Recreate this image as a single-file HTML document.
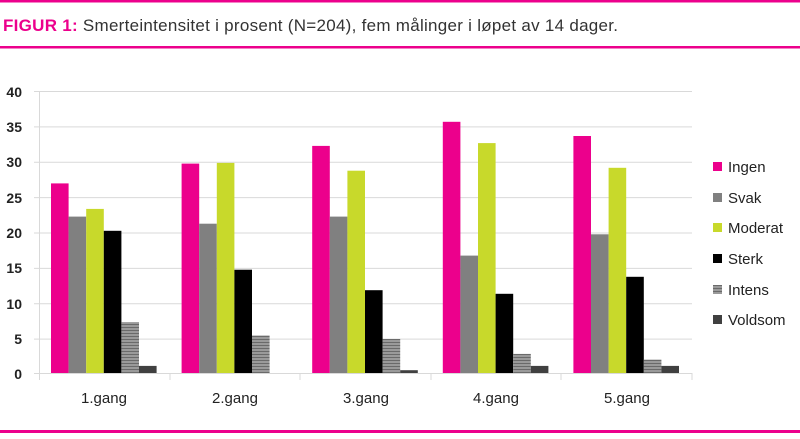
<!DOCTYPE html>
<html><head><meta charset="utf-8"><style>
body{margin:0;width:800px;height:434px;background:#fff;overflow:hidden;font-family:"Liberation Sans",sans-serif}
</style></head><body>
<svg width="800" height="434" xmlns="http://www.w3.org/2000/svg" font-family="Liberation Sans, sans-serif">
<defs><pattern id="st" width="4" height="3" patternUnits="userSpaceOnUse"><rect width="4" height="3" fill="#9a9a9a"/><rect width="4" height="1" fill="#6a6a6a"/></pattern></defs>
<rect x="0" y="0" width="800" height="2.5" fill="#ec008c"/>
<rect x="0" y="46" width="800" height="2.5" fill="#ec008c"/>
<rect x="0" y="430" width="800" height="3" fill="#ec008c"/>
<text x="3" y="31" font-size="17" fill="#333" textLength="615" lengthAdjust="spacing"><tspan fill="#ec008c" font-weight="bold">FIGUR 1:</tspan> Smerteintensitet i prosent (N=204), fem målinger i løpet av 14 dager.</text>
<g stroke="#d9d9d9" stroke-width="1">
<line x1="34" y1="91.5" x2="692" y2="91.5"/><line x1="34" y1="126.9" x2="692" y2="126.9"/><line x1="34" y1="162.2" x2="692" y2="162.2"/><line x1="34" y1="197.6" x2="692" y2="197.6"/><line x1="34" y1="233" x2="692" y2="233"/><line x1="34" y1="268.4" x2="692" y2="268.4"/><line x1="34" y1="303.7" x2="692" y2="303.7"/><line x1="34" y1="339.1" x2="692" y2="339.1"/>
<line x1="39.5" y1="91" x2="39.5" y2="380"/><line x1="34" y1="373.5" x2="692" y2="373.5"/>
<line x1="170" y1="373" x2="170" y2="380"/><line x1="300" y1="373" x2="300" y2="380"/><line x1="431" y1="373" x2="431" y2="380"/><line x1="561" y1="373" x2="561" y2="380"/><line x1="692" y1="373" x2="692" y2="380"/>
</g>
<g font-size="14" font-weight="bold" fill="#222" text-anchor="end">
<text x="22" y="97">40</text><text x="22" y="132">35</text><text x="22" y="167">30</text><text x="22" y="203">25</text><text x="22" y="238">20</text><text x="22" y="273">15</text><text x="22" y="309">10</text><text x="22" y="344">5</text><text x="22" y="379">0</text>
</g>
<g>
<rect x="51" y="183.4" width="17.6" height="189.6" fill="#ec008c"/>
<rect x="68.6" y="216.6" width="17.6" height="156.4" fill="#808080"/>
<rect x="86.2" y="208.9" width="17.6" height="164.1" fill="#c8d92b"/>
<rect x="103.8" y="230.8" width="17.6" height="142.2" fill="#000"/>
<rect x="121.4" y="322.1" width="17.6" height="50.9" fill="url(#st)"/>
<rect x="139" y="365.9" width="17.6" height="7.1" fill="#404040"/>

<rect x="181.6" y="163.6" width="17.6" height="209.4" fill="#ec008c"/>
<rect x="199.2" y="223.7" width="17.6" height="149.3" fill="#808080"/>
<rect x="216.8" y="162.9" width="17.6" height="210.1" fill="#c8d92b"/>
<rect x="234.4" y="269.7" width="17.6" height="103.3" fill="#000"/>
<rect x="252" y="335.5" width="17.6" height="37.5" fill="url(#st)"/>

<rect x="312.2" y="145.9" width="17.6" height="227.1" fill="#ec008c"/>
<rect x="329.8" y="216.6" width="17.6" height="156.4" fill="#808080"/>
<rect x="347.4" y="170.7" width="17.6" height="202.3" fill="#c8d92b"/>
<rect x="365" y="290.2" width="17.6" height="82.8" fill="#000"/>
<rect x="382.6" y="339" width="17.6" height="34" fill="url(#st)"/>
<rect x="400.2" y="370.2" width="17.6" height="2.8" fill="#404040"/>

<rect x="442.8" y="121.8" width="17.6" height="251.2" fill="#ec008c"/>
<rect x="460.4" y="255.6" width="17.6" height="117.4" fill="#808080"/>
<rect x="478" y="143.1" width="17.6" height="229.9" fill="#c8d92b"/>
<rect x="495.6" y="293.8" width="17.6" height="79.2" fill="#000"/>
<rect x="513.2" y="353.9" width="17.6" height="19.1" fill="url(#st)"/>
<rect x="530.8" y="365.9" width="17.6" height="7.1" fill="#404040"/>

<rect x="573.4" y="136" width="17.6" height="237" fill="#ec008c"/>
<rect x="591" y="234.3" width="17.6" height="138.7" fill="#808080"/>
<rect x="608.6" y="167.8" width="17.6" height="205.2" fill="#c8d92b"/>
<rect x="626.2" y="276.8" width="17.6" height="96.2" fill="#000"/>
<rect x="643.8" y="359.6" width="17.6" height="13.4" fill="url(#st)"/>
<rect x="661.4" y="365.9" width="17.6" height="7.1" fill="#404040"/>
</g>
<g font-size="15" fill="#222" text-anchor="middle">
<text x="104" y="403">1.gang</text><text x="235" y="403">2.gang</text><text x="366" y="403">3.gang</text><text x="496" y="403">4.gang</text><text x="627" y="403">5.gang</text>
</g>
<g font-size="15" fill="#222">
<rect x="713" y="162" width="9" height="9" fill="#ec008c"/><text x="728" y="172">Ingen</text>
<rect x="713" y="193" width="9" height="9" fill="#808080"/><text x="728" y="203">Svak</text>
<rect x="713" y="223" width="9" height="9" fill="#c8d92b"/><text x="728" y="233">Moderat</text>
<rect x="713" y="254" width="9" height="9" fill="#000"/><text x="728" y="264">Sterk</text>
<rect x="713" y="285" width="9" height="9" fill="url(#st)"/><text x="728" y="295">Intens</text>
<rect x="713" y="315" width="9" height="9" fill="#404040"/><text x="728" y="325">Voldsom</text>
</g>
</svg>
</body></html>
